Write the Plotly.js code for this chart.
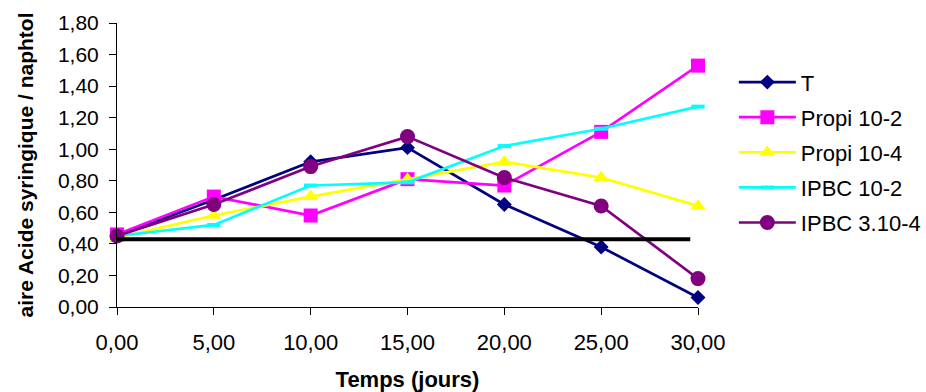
<!DOCTYPE html>
<html>
<head>
<meta charset="utf-8">
<script src="https://cdn.plot.ly/plotly-3.0.1.min.js"></script>
<style>html,body{margin:0;padding:0;background:#fff;}#chart{width:926px;height:392px;}</style>
</head>
<body>
<div id="chart"></div>
<script>
// Time (days)
const days = [0, 5, 10, 15, 20, 25, 30];
// Series values (aire Acide syringique / naphtol)
const seriesNames = ["T", "Propi 10-2", "Propi 10-4", "IPBC 10-2", "IPBC 3.10-4"];
const valT       = [0.45, 0.68, 0.92, 1.01, 0.65, 0.38, 0.06];
const valPropi2  = [0.46, 0.70, 0.58, 0.81, 0.77, 1.11, 1.53];
const valPropi4  = [0.44, 0.58, 0.70, 0.81, 0.92, 0.82, 0.64];
const valIPBC2   = [0.45, 0.52, 0.77, 0.79, 1.02, 1.13, 1.27];
const valIPBC34  = [0.45, 0.65, 0.89, 1.08, 0.82, 0.64, 0.18];
// Reference (threshold) line
const refX = [0, 29.6];
const refY = [0.43, 0.43];
const yTicks = [0, 0.2, 0.4, 0.6, 0.8, 1.0, 1.2, 1.4, 1.6, 1.8];
const xTicks = [0, 5, 10, 15, 20, 25, 30];

const FONT = "Liberation Sans, Arial, sans-serif";
const styles = [
  {color: "#000080", symbol: "diamond", size: 11.5},
  {color: "#FF00FF", symbol: "square", size: 14},
  {color: "#FFFF00", symbol: "triangle-up", size: 13.5},
  {color: "#00FFFF", symbol: "line-ew", size: 9.5},
  {color: "#800080", symbol: "circle", size: 15}
];
const values = [valT, valPropi2, valPropi4, valIPBC2, valIPBC34];

const traces = values.map((v, i) => {
  const s = styles[i];
  const marker = {symbol: s.symbol, size: s.size, color: s.color};
  if (s.symbol === "line-ew") marker.line = {color: s.color, width: 4};
  else marker.line = {width: 0};
  return {
    x: days, y: v, name: seriesNames[i], type: "scatter", mode: "lines+markers",
    line: {color: s.color, width: 2.7}, marker: marker,
    legendgroup: "g" + i, cliponaxis: false
  };
});
traces.push({
  x: refX, y: refY, type: "scatter", mode: "lines",
  line: {color: "#000000", width: 4}, showlegend: false, hoverinfo: "skip", cliponaxis: false
});

const layout = {
  width: 926, height: 392,
  margin: {l: 117, r: 228, t: 23, b: 85, pad: 0},
  paper_bgcolor: "#fff", plot_bgcolor: "#fff",
  separators: ", ",
  font: {family: FONT, size: 21, color: "#000"},
  showlegend: true,
  legend: {
    xref: "container", yref: "container",
    x: 0.7925, xanchor: "left", y: 0.8436, yanchor: "top",
    traceorder: "grouped", tracegroupgap: 3.5, itemwidth: 57,
    font: {family: FONT, size: 22, color: "#000"},
    bgcolor: "rgba(0,0,0,0)", borderwidth: 0
  },
  xaxis: {
    range: [0, 30], tickvals: xTicks, tickformat: ".2f", automargin: false,
    showgrid: false, zeroline: false,
    showline: true, linecolor: "#000", linewidth: 1,
    ticks: "outside", ticklen: 7, tickcolor: "#000", tickwidth: 1,
    ticklabelstandoff: 9,
    tickfont: {family: FONT, size: 22, color: "#000"},
    title: {text: "Temps (jours)", font: {family: FONT, size: 22, color: "#000", weight: "bold"}, standoff: 18}
  },
  yaxis: {
    range: [0, 1.8], tickvals: yTicks, tickformat: ".2f", automargin: false,
    showgrid: false, zeroline: false,
    showline: true, linecolor: "#000", linewidth: 1,
    ticks: "outside", ticklen: 7, tickcolor: "#000", tickwidth: 1,
    ticklabelstandoff: 6,
    tickfont: {family: FONT, size: 21, color: "#000"},
    title: {text: "aire Acide syringique / naphtol", font: {family: FONT, size: 21, color: "#000", weight: "bold"}, standoff: 18}
  }
};

Plotly.newPlot("chart", traces, layout, {displayModeBar: false, staticPlot: true});
</script>
</body>
</html>
